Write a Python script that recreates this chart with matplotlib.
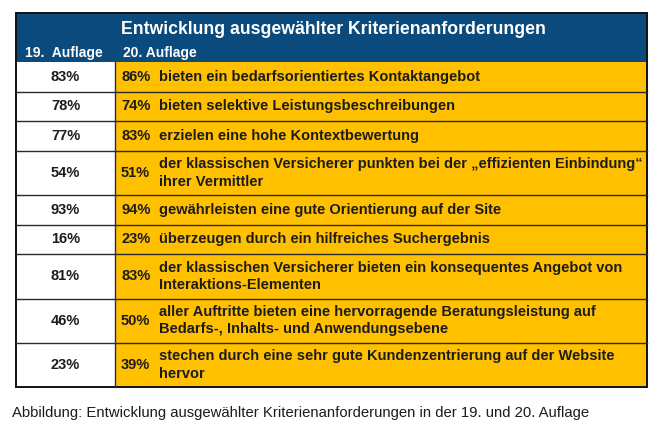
import matplotlib

matplotlib.use("Agg")
import matplotlib.pyplot as plt
from matplotlib.patches import Rectangle

plt.rcParams["font.family"] = ["Liberation Sans", "DejaVu Sans"]

TITLE = "Entwicklung ausgewählter Kriterienanforderungen"
COL_LABELS = ["19.  Auflage", "20. Auflage"]
VALUES_19 = [83, 78, 77, 54, 93, 16, 81, 46, 23]
VALUES_20 = [86, 74, 83, 51, 94, 23, 83, 50, 39]
CRITERIA = [
    "bieten ein bedarfsorientiertes Kontaktangebot",
    "bieten selektive Leistungsbeschreibungen",
    "erzielen eine hohe Kontextbewertung",
    "der klassischen Versicherer punkten bei der \u201eeffizienten Einbindung\u201c\nihrer Vermittler",
    "gewährleisten eine gute Orientierung auf der Site",
    "überzeugen durch ein hilfreiches Suchergebnis",
    "der klassischen Versicherer bieten ein konsequentes Angebot von\nInteraktions-Elementen",
    "aller Auftritte bieten eine hervorragende Beratungsleistung auf\nBedarfs-, Inhalts- und Anwendungsebene",
    "stechen durch eine sehr gute Kundenzentrierung auf der Website\nhervor",
]
CAPTION = "Abbildung: Entwicklung ausgewählter Kriterienanforderungen in der 19. und 20. Auflage"

NAVY = "#0b4a7c"
GOLD = "#ffc000"
INK = "#1c1c1c"

# layout in pixels
LEFT, SPLIT, RIGHT = 16, 115, 647
TOP, HEAD_BOTTOM = 13, 62
ONE_LINE, TWO_LINES = 29.6, 44.3
FS = 10.5

fig = plt.figure(figsize=(6.61, 4.40), dpi=100)
ax = fig.add_axes([0, 0, 1, 1])
ax.set_xlim(0, 661)
ax.set_ylim(440, 0)
ax.axis("off")

# header band
ax.add_patch(Rectangle((LEFT, TOP), RIGHT - LEFT, HEAD_BOTTOM - TOP, facecolor=NAVY, edgecolor="none"))
ax.text(SPLIT + 6, 29, TITLE, color="white", fontsize=12.7, fontweight="bold", va="center", ha="left")
ax.text(LEFT + 9, 53, COL_LABELS[0], color="white", fontsize=10, fontweight="bold", va="center")
ax.text(SPLIT + 8, 53, COL_LABELS[1], color="white", fontsize=10, fontweight="bold", va="center")

y = HEAD_BOTTOM
for v19, v20, text in zip(VALUES_19, VALUES_20, CRITERIA):
    h = TWO_LINES if "\n" in text else ONE_LINE
    ax.add_patch(Rectangle((LEFT, y), SPLIT - LEFT, h, facecolor="white", edgecolor="none"))
    ax.add_patch(Rectangle((SPLIT, y), RIGHT - SPLIT, h, facecolor=GOLD, edgecolor="none"))
    mid = y + h / 2
    ax.text((LEFT + SPLIT) / 2, mid, f"{v19}%", color=INK, fontsize=FS, fontweight="bold",
            ha="center", va="center")
    ax.text(SPLIT + 6, mid, f"{v20}%", color=INK, fontsize=FS, fontweight="bold",
            ha="left", va="center")
    ax.text(SPLIT + 44, mid, text, color=INK, fontsize=FS, fontweight="bold",
            ha="left", va="center", linespacing=1.3)
    if y > HEAD_BOTTOM:
        ax.plot([LEFT, RIGHT], [y, y], color="#2a2a2a", lw=1.0)
    y += h

bottom = y
ax.plot([SPLIT, SPLIT], [HEAD_BOTTOM, bottom], color="#1f2f5a", lw=1.0)
ax.add_patch(Rectangle((LEFT, TOP), RIGHT - LEFT, bottom - TOP, facecolor="none",
                       edgecolor="#111111", lw=1.4))

ax.text(12, 413, CAPTION, color=INK, fontsize=10.7, ha="left", va="center")

fig.savefig("out.png", dpi=100)
